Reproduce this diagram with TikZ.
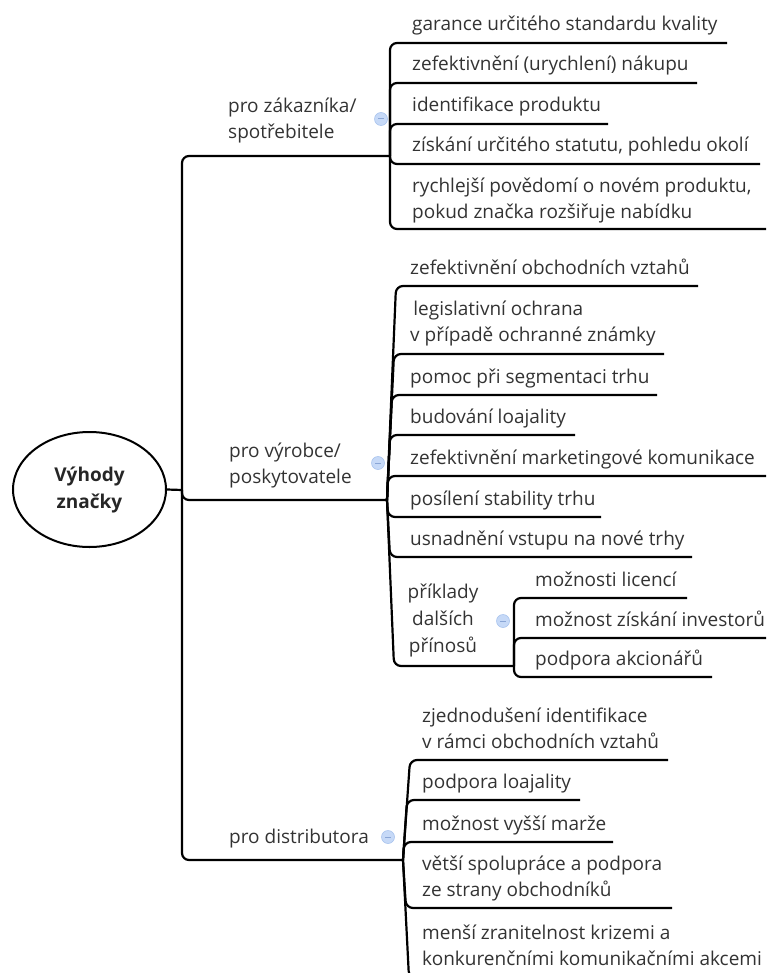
\documentclass[tikz,border=0pt]{standalone}
\usepackage{fontspec}
\setmainfont{Open Sans}
\usetikzlibrary{calc,shapes.geometric}
\definecolor{txt}{HTML}{333333}
\definecolor{iconfill}{HTML}{C6D9F7}
\definecolor{iconedge}{HTML}{A9C4EE}
\definecolor{iconbar}{HTML}{8AA6D6}

\begin{document}
\begin{tikzpicture}[x=1pt, y=-1pt,
  edge/.style={line width=2.2pt, rounded corners=7pt},
  leaf/.style={anchor=base west, inner sep=0pt, text=txt,
    font=\fontsize{19}{26}\selectfont, align=left},
  topic/.style={leaf},
  rootnode/.style={ellipse, draw, line width=2pt, minimum width=153pt,
    minimum height=115pt, inner sep=0pt, align=center, text=black!85,
    font=\fontsize{19}{27}\selectfont\bfseries},
  collapse/.style={circle, fill=iconfill, draw=iconedge, line width=0.6pt,
    minimum size=13pt, inner sep=0pt,
    path picture={\draw[iconbar, line width=1pt]
      ([xshift=-3pt]path picture bounding box.center) --
      ([xshift=3pt]path picture bounding box.center);}}
]
\useasboundingbox (0,0) rectangle (768,973);
\clip (0,0) rectangle (768,973);

% central topic
\node[rootnode] (root) at (89.5,489.5) {Výhody\\značky};

% junctions
\coordinate (hub0) at (182,490);
\coordinate (hubA) at (390,156);
\coordinate (hubB) at (387,500);
\coordinate (hubC) at (403,860);
\coordinate (hubD) at (514,666);

% main branches
\draw[edge] (root.east) -- (hub0);
\draw[edge] (hub0) |- (hubA);
\draw[edge] (hub0) |- (hubB);
\draw[edge] (hub0) |- (hubC);

% multi-line nodes are anchored at the baseline of their last line
\node[topic] (tA) at (228,139) {pro zákazníka/\\spotřebitele};
\node[topic] (tB) at (229,483) {pro výrobce/\\poskytovatele};
\node[topic] (tC) at (229,843) {pro distributora};

\node[collapse] (iA) at (381,119) {};
\node[collapse] (iB) at (378,463) {};
\node[collapse] (iC) at (388,837) {};
\node[collapse] (iD) at (503,621) {};

% --- pro zákazníka/spotřebitele
\coordinate (a1e) at (727,43);
\coordinate (a2e) at (697,83);
\coordinate (a3e) at (608,124);
\coordinate (a4e) at (760,164);
\coordinate (a5e) at (766,229);
\foreach \k in {a1e,a2e,a3e,a4e,a5e} \draw[edge] (hubA) |- (\k);
\node[leaf] (a1) at (412,31) {garance určitého standardu kvality};
\node[leaf] (a2) at (412,71) {zefektivnění (urychlení) nákupu};
\node[leaf] (a3) at (412,112) {identifikace produktu};
\node[leaf] (a4) at (412,152) {získání určitého statutu, pohledu okolí};
\node[leaf] (a5) at (412,219) {rychlejší povědomí o novém produktu,\\pokud značka rozšiřuje nabídku};

% --- pro výrobce/poskytovatele
\coordinate (b1e) at (698,286);
\coordinate (b2e) at (664,354);
\coordinate (b3e) at (657,395);
\coordinate (b4e) at (575,435);
\coordinate (b5e) at (766,476);
\coordinate (b6e) at (601,517);
\coordinate (b7e) at (692,557);
\draw[edge] (hubB) -- ($(hubB |- b1e)+(9,0)$) -- (b1e);
\draw[edge] (hubB) -- ($(hubB |- b2e)+(7,0)$) -- (b2e);
\draw[edge] (hubB) -- ($(hubB |- b3e)+(5,0)$) -- (b3e);
\draw[edge] (hubB) -- ($(hubB |- b4e)+(3,0)$) -- (b4e);
\draw[edge] (hubB) -- ($(hubB |- b5e)+(1,0)$) -- (b5e);
\draw[edge] (hubB) -- ($(hubB |- b6e)+(1,0)$) -- (b6e);
\draw[edge] (hubB) -- ($(hubB |- b7e)+(3,0)$) -- (b7e);
\draw[edge] (hubB) -- ($(hubB |- hubD)+(7,0)$) -- (hubD);
\node[leaf] (b1) at (410,274) {zefektivnění obchodních vztahů};
\node[leaf] (b2) at (410,341) {\,legislativní ochrana\\v případě ochranné známky};
\node[leaf] (b3) at (410,383) {pomoc při segmentaci trhu};
\node[leaf] (b4) at (410,423) {budování loajality};
\node[leaf] (b5) at (410,464) {zefektivnění marketingové komunikace};
\node[leaf] (b6) at (410,505) {posílení stability trhu};
\node[leaf] (b7) at (410,545) {usnadnění vstupu na nové trhy};
\node[leaf, anchor=base, align=center, font=\fontsize{19}{27}\selectfont]
  (b8) at (443,652) {příklady\\dalších\\přínosů};

% --- další přínosy
\coordinate (d1e) at (687,598);
\coordinate (d2e) at (766,638);
\coordinate (d3e) at (712,677);
\foreach \k in {d1e,d2e,d3e} \draw[edge] (hubD) |- (\k);
\node[leaf] (d1) at (535,586) {možnosti licencí};
\node[leaf] (d2) at (535,626) {možnost získání investorů};
\node[leaf] (d3) at (535,665) {podpora akcionářů};

% --- pro distributora
\coordinate (c1e) at (668,760);
\coordinate (c2e) at (580,800);
\coordinate (c3e) at (613,842);
\coordinate (c4e) at (672,908);
\coordinate (c5e) at (766,978);
\draw[edge] (hubC) -- ($(hubC |- c1e)+(7,0)$) -- (c1e);
\draw[edge] (hubC) -- ($(hubC |- c2e)+(4,0)$) -- (c2e);
\draw[edge] (hubC) -- ($(hubC |- c3e)+(1,0)$) -- (c3e);
\draw[edge] (hubC) -- ($(hubC |- c4e)+(3,0)$) -- (c4e);
\draw[edge] (hubC) -- ($(hubC |- c5e)+(6,0)$) -- (c5e);
\node[leaf] (c1) at (422,748) {zjednodušení identifikace\\v rámci obchodních vztahů};
\node[leaf] (c2) at (422,788) {podpora loajality};
\node[leaf] (c3) at (422,830) {možnost vyšší marže};
\node[leaf] (c4) at (422,896) {větší spolupráce a podpora\\ze strany obchodníků};
\node[leaf] (c5) at (422,965) {menší zranitelnost krizemi a\\konkurenčními komunikačními akcemi};
\end{tikzpicture}
\end{document}
